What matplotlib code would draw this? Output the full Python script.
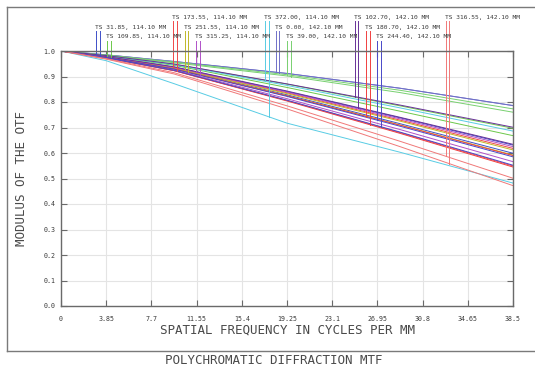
import matplotlib

matplotlib.use("Agg")
import matplotlib.pyplot as plt
import numpy as np
from matplotlib.lines import Line2D

# spatial frequency sample points (cycles/mm)
freq = [0, 3.85, 9.625, 19.25, 28.875, 38.5]

# MTF, tangential / sagittal for each field
f1_t = [1.0, 0.978, 0.937, 0.841, 0.738, 0.631]
f1_s = [1.0, 0.976, 0.932, 0.828, 0.715, 0.599]
f2_t = [1.0, 0.982, 0.948, 0.870, 0.785, 0.697]
f2_s = [1.0, 0.980, 0.944, 0.857, 0.764, 0.668]
f3_t = [1.0, 0.977, 0.935, 0.836, 0.729, 0.618]
f3_s = [1.0, 0.973, 0.923, 0.806, 0.680, 0.549]
f4_t = [1.0, 0.977, 0.934, 0.833, 0.725, 0.612]
f4_s = [1.0, 0.976, 0.931, 0.825, 0.710, 0.592]
f5_t = [1.0, 0.978, 0.936, 0.839, 0.734, 0.625]
f5_s = [1.0, 0.974, 0.926, 0.813, 0.692, 0.566]
f6_t = [1.0, 0.981, 0.947, 0.865, 0.777, 0.686]
f6_s = [1.0, 0.962, 0.872, 0.717, 0.603, 0.482]
f7_t = [1.0, 0.985, 0.959, 0.912, 0.854, 0.786]
f7_s = [1.0, 0.985, 0.959, 0.912, 0.854, 0.786]
f8_t = [1.0, 0.984, 0.957, 0.907, 0.846, 0.773]
f8_s = [1.0, 0.983, 0.954, 0.902, 0.837, 0.760]
f9_t = [1.0, 0.982, 0.949, 0.871, 0.788, 0.701]
f9_s = [1.0, 0.978, 0.938, 0.843, 0.740, 0.634]
f10_t = [1.0, 0.975, 0.930, 0.824, 0.709, 0.590]
f10_s = [1.0, 0.973, 0.923, 0.804, 0.677, 0.545]
f11_t = [1.0, 0.975, 0.929, 0.822, 0.705, 0.585]
f11_s = [1.0, 0.973, 0.924, 0.807, 0.682, 0.552]
f12_t = [1.0, 0.970, 0.915, 0.785, 0.646, 0.501]
f12_s = [1.0, 0.968, 0.910, 0.773, 0.625, 0.472]

field_labels = [
    "TS 31.85, 114.10 MM",
    "TS 109.85, 114.10 MM",
    "TS 173.55, 114.10 MM",
    "TS 251.55, 114.10 MM",
    "TS 315.25, 114.10 MM",
    "TS 372.00, 114.10 MM",
    "TS 0.00, 142.10 MM",
    "TS 39.00, 142.10 MM",
    "TS 102.70, 142.10 MM",
    "TS 180.70, 142.10 MM",
    "TS 244.40, 142.10 MM",
    "TS 316.55, 142.10 MM",
]
field_colors = [
    "#3f4fc8", "#6cc84a", "#f04848", "#c0b828", "#b050c8", "#58cce4",
    "#7070c8", "#78d070", "#683098", "#f04040", "#4848c8", "#f07878",
]

x_ticks = [0, 3.85, 7.7, 11.55, 15.4, 19.25, 23.1, 26.95, 30.8, 34.65, 38.5]
x_tick_labels = ["0", "3.85", "7.7", "11.55", "15.4", "19.25", "23.1",
                 "26.95", "30.8", "34.65", "38.5"]
y_ticks = [0.0, 0.1, 0.2, 0.3, 0.4, 0.5, 0.6, 0.7, 0.8, 0.9, 1.0]

curves = [
    (f1_t, f1_s), (f2_t, f2_s), (f3_t, f3_s), (f4_t, f4_s),
    (f5_t, f5_s), (f6_t, f6_s), (f7_t, f7_s), (f8_t, f8_s),
    (f9_t, f9_s), (f10_t, f10_s), (f11_t, f11_s), (f12_t, f12_s),
]

# where the little T/S marker lines sit (frequency of the T line)
marker_x = [2.98, 3.92, 9.58, 10.56, 11.50, 17.38, 18.31, 19.25,
            25.04, 26.02, 26.92, 32.79]
row_text_y = [1.133, 1.094, 1.055]
row_line_y = [1.118, 1.078, 1.039]
field_row = [1, 2, 0, 1, 2, 0, 1, 2, 0, 1, 2, 0]

small_font = "DejaVu Sans Mono"
big_font = "DejaVu Sans Mono"
frame_col = "#6a6a6a"
text_col = "#3a3a3a"


def main() -> None:
    fig = plt.figure(figsize=(5.35, 3.65), dpi=100, facecolor="white")

    # outer frame: left, top and bottom only (right side runs off the page)
    fl, ft, fb = 7 / 535, 1 - 7 / 365, 1 - 351 / 365
    for xs, ys in (([fl, fl], [fb, ft]), ([fl, 1.0], [ft, ft]),
                   ([fl, 1.0], [fb, fb])):
        fig.lines.append(Line2D(xs, ys, transform=fig.transFigure,
                                color="#7a7a7a", linewidth=1.0))

    ax = fig.add_axes([61 / 535, 1 - 306 / 365, 452 / 535, 255 / 365])

    for (t, s), col in zip(curves, field_colors):
        ax.plot(freq, t, color=col, linewidth=0.7)
        ax.plot(freq, s, color=col, linewidth=0.7)

    for i, ((t, s), col) in enumerate(zip(curves, field_colors)):
        row = field_row[i]
        x0 = marker_x[i]
        for dx, series in ((0.0, t), (0.30, s)):
            yb = np.interp(x0 + dx, freq, series)
            ax.plot([x0 + dx, x0 + dx], [row_line_y[row], yb],
                    color=col, linewidth=0.7, clip_on=False)
        ax.text(x0 - 0.12, row_text_y[row], field_labels[i], ha="left",
                va="center", fontsize=4.5, family=small_font, color=text_col,
                clip_on=False)

    ax.set_xlim(0, 38.5)
    ax.set_ylim(0, 1.0)
    ax.set_xticks(x_ticks)
    ax.set_xticklabels(x_tick_labels)
    ax.set_yticks(y_ticks)
    ax.set_yticklabels([f"{v:.1f}" for v in y_ticks])
    for lbl in ax.get_xticklabels() + ax.get_yticklabels():
        lbl.set_family(small_font)
        lbl.set_fontsize(4.8)
        lbl.set_color(text_col)

    ax.grid(True, color="#e4e4e4", linewidth=0.8)
    ax.set_axisbelow(True)
    for sp in ax.spines.values():
        sp.set_color(frame_col)
        sp.set_linewidth(1.0)
    ax.tick_params(axis="both", direction="in", length=4, width=0.8,
                   color=frame_col, top=True, right=True)
    ax.tick_params(axis="x", pad=7)
    ax.tick_params(axis="y", pad=4)

    ax.set_xlabel("SPATIAL FREQUENCY IN CYCLES PER MM", family=big_font,
                  fontsize=9, color="#4a4a4a")
    ax.xaxis.label.set_va("center")
    ax.xaxis.set_label_coords(0.5, -0.096)
    ax.set_ylabel("MODULUS OF THE OTF", family=big_font, fontsize=9,
                  color="#4a4a4a")
    ax.yaxis.label.set_va("center")
    ax.yaxis.set_label_coords(-0.087, 0.5)

    fig.text(274 / 535, 1 - 360 / 365, "POLYCHROMATIC DIFFRACTION MTF",
             ha="center", va="center", family=big_font, fontsize=9,
             color="#4a4a4a")

    plt.savefig("out.png", dpi=100)


if __name__ == "__main__":
    main()
